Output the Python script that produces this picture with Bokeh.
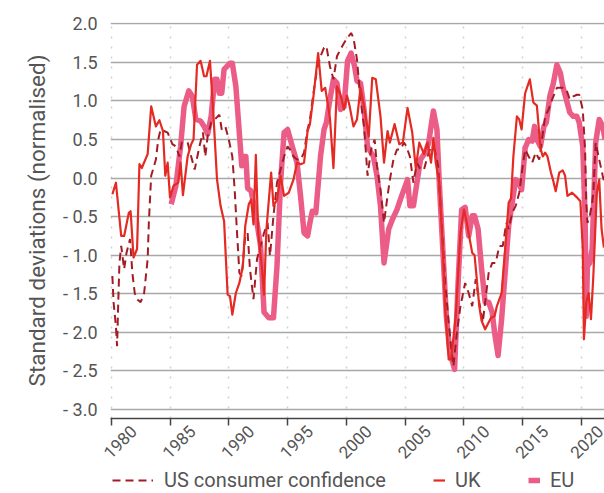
import math
from bokeh.plotting import figure
from bokeh.layouts import column
from bokeh.models import Range1d, FixedTicker, Legend, LegendItem, LinearAxis
from bokeh.embed import file_html
from bokeh.resources import INLINE

# ---------------- data ----------------
X_TICKS = [1980, 1985, 1990, 1995, 2000, 2005, 2010, 2015, 2020]
X_TICK_LABELS = ["1980", "1985", "1990", "1995", "2000", "2005", "2010", "2015", "2020"]
Y_TICKS = [-3.0, -2.5, -2.0, -1.5, -1.0, -0.5, 0.0, 0.5, 1.0, 1.5, 2.0]
Y_TICK_LABELS = ["- 3.0", "- 2.5", "- 2.0", "- 1.5", "- 1.0", "- 0.5", "0.0", "0.5", "1.0", "1.5", "2.0"]

SERIES_NAMES = ["US consumer confidence", "UK", "EU"]

us_years = [1980.1, 1980.2, 1980.4, 1980.5, 1980.6, 1980.7, 1980.85, 1981.1, 1981.3, 1981.6, 1981.8,
            1982.0, 1982.2, 1982.5, 1982.8, 1983.1, 1983.2, 1983.4, 1983.8, 1984.0, 1984.2, 1984.5,
            1984.8, 1985.2, 1985.5, 1985.8, 1986.0, 1986.5, 1986.8, 1987.1, 1987.5, 1987.8, 1988.0,
            1988.2, 1988.5, 1988.8, 1989.2, 1989.4, 1989.7, 1990.0, 1990.3, 1990.5, 1990.7, 1990.9,
            1991.1, 1991.4, 1991.6, 1991.8, 1992.1, 1992.4, 1992.7, 1993.0, 1993.3, 1993.5, 1993.8,
            1994.1, 1994.4, 1994.7, 1995.0, 1995.2, 1995.5, 1995.8, 1996.1, 1996.4, 1996.7, 1996.9,
            1997.2, 1997.5, 1997.8, 1998.1, 1998.3, 1998.6, 1998.9, 1999.2, 1999.5, 1999.8, 2000.0,
            2000.4, 2000.6, 2000.9, 2001.2, 2001.5, 2001.8, 2002.1, 2002.4, 2002.6, 2002.9, 2003.2,
            2003.5, 2003.7, 2004.0, 2004.3, 2004.6, 2004.9, 2005.1, 2005.4, 2005.7, 2006.0, 2006.3,
            2006.6, 2006.9, 2007.2, 2007.5, 2007.8, 2008.1, 2008.4, 2008.7, 2008.9, 2009.1, 2009.4,
            2009.7, 2010.1, 2010.4, 2010.7, 2011.0, 2011.3, 2011.6, 2011.8, 2012.1, 2012.4, 2012.7,
            2013.0, 2013.3, 2013.6, 2013.8, 2014.1, 2014.4, 2014.7, 2015.0, 2015.2, 2015.5, 2015.8,
            2016.1, 2016.4, 2016.6, 2016.9, 2017.2, 2017.5, 2017.9, 2018.2, 2018.4, 2018.7, 2019.0,
            2019.3, 2019.6, 2019.8, 2020.1, 2020.3, 2020.4, 2020.5, 2020.7, 2020.9, 2021.0, 2021.2,
            2021.5, 2021.8, 2022.0]
us_values = [-1.27, -1.61, -1.92, -2.18, -1.61, -1.10, -0.88, -1.18, -0.97, -0.79, -1.23,
             -1.49, -1.57, -1.61, -1.49, -1.05, -0.58, 0.03, 0.24, 0.50, 0.63, 0.61,
             0.59, 0.44, 0.41, 0.28, 0.46, 0.46, 0.28, 0.11, 0.41, 0.59, 0.28,
             0.54, 0.72, 0.76, 0.82, 0.63, 0.67, 0.50, 0.28, -0.15, -0.71, -1.23,
             -1.27, -0.75, -0.71, -1.18, -1.57, -1.05, -0.88, -0.71, -0.58, -1.01, -0.49,
             -0.06, 0.11, 0.28, 0.41, 0.37, 0.28, 0.24, 0.24, 0.33, 0.63, 0.76,
             1.10, 1.41, 1.58, 1.69, 1.71, 1.45, 1.28, 1.58, 1.67, 1.75, 1.80,
             1.88, 1.82, 1.54, 1.02, 0.67, 0.03, 0.37, 0.50, 0.16, -0.15, -0.58,
             -0.23, -0.02, 0.24, 0.37, 0.37, 0.46, 0.41, 0.28, -0.06, 0.20, 0.11,
             0.11, 0.28, 0.41, 0.37, 0.16, -0.58, -1.36, -1.87, -2.18, -2.44, -2.00,
             -1.66, -1.36, -1.49, -1.66, -1.31, -1.61, -1.87, -1.61, -1.23, -1.10, -1.10,
             -0.88, -0.88, -0.58, -0.66, -0.45, -0.36, -0.19, 0.16, 0.37, 0.28, 0.20,
             0.33, 0.24, 0.46, 0.80, 0.89, 1.02, 1.17, 1.17, 1.17, 1.15, 1.02,
             1.06, 1.08, 1.08, 0.89, 0.37, -0.32, -0.58, -0.49, -0.32, -0.19, 0.46,
             0.24, 0.03, -0.10]

uk_years = [1980.1, 1980.4, 1980.85, 1981.1, 1981.5, 1981.65, 1981.9, 1982.2, 1982.4, 1982.6,
            1983.1, 1983.4, 1983.8, 1984.1, 1984.4, 1984.6, 1984.8, 1985.0, 1985.3, 1985.7,
            1985.9, 1986.1, 1986.5, 1986.8, 1987.0, 1987.3, 1987.6, 1987.9, 1988.1, 1988.4,
            1988.7, 1989.0, 1989.3, 1989.6, 1989.9, 1990.1, 1990.3, 1990.6, 1990.9, 1991.2,
            1991.4, 1991.7, 1991.9, 1992.1, 1992.3, 1992.5, 1992.8, 1993.0, 1993.2, 1993.6,
            1993.8, 1994.1, 1994.4, 1994.7, 1995.1, 1995.5, 1995.8, 1996.1, 1996.4, 1996.7,
            1996.9, 1997.2, 1997.6, 1997.9, 1998.2, 1998.6, 1998.9, 1999.2, 1999.5, 1999.8,
            2000.05, 2000.25, 2000.6, 2000.9, 2001.2, 2001.5, 2001.9, 2002.2, 2002.5, 2002.9,
            2003.2, 2003.5, 2003.7, 2004.1, 2004.5, 2004.8, 2005.2, 2005.6, 2005.9, 2006.2,
            2006.6, 2006.9, 2007.2, 2007.4, 2007.6, 2007.9, 2008.2, 2008.4, 2008.7, 2008.9,
            2009.3, 2009.7, 2010.0, 2010.2, 2010.7, 2010.9, 2011.3, 2011.5, 2011.8, 2012.3,
            2012.6, 2012.8, 2013.2, 2013.5, 2013.8, 2014.0, 2014.2, 2014.5, 2014.7, 2014.9,
            2015.2, 2015.6, 2015.9, 2016.2, 2016.5, 2016.7, 2016.9, 2017.1, 2017.4, 2017.6,
            2017.8, 2018.1, 2018.4, 2018.6, 2018.8, 2019.2, 2019.6, 2019.9, 2020.1, 2020.2,
            2020.4, 2020.6, 2020.8, 2021.0, 2021.3, 2021.5, 2021.7, 2021.9]
uk_values = [-0.21, -0.06, -0.75, -0.75, -0.45, -0.43, -1.03, -0.92, 0.18, 0.13,
             0.31, 0.93, 0.67, 0.75, 0.61, 0.03, 0.20, -0.25, -0.10, -0.06,
             0.20, -0.22, 0.28, 0.44, 0.50, 1.47, 1.52, 1.32, 1.32, 1.52,
             0.80, -0.02, -0.36, -0.56, -1.51, -1.53, -1.77, -1.49, -1.36, -1.14,
             -0.62, -0.34, -0.28, -0.60, 0.30, -0.71, -1.14, -1.51, -0.66, 0.07,
             -0.36, -0.28, 0.03, -0.23, -0.19, -0.02, 0.20, 0.18, 0.20, 0.61,
             0.70, 1.06, 1.62, 1.13, 1.17, 0.78, 0.13, 1.19, 1.08, 0.89,
             1.07, 0.95, 0.67, 0.76, 1.17, 0.93, 0.54, 1.30, 1.28, 0.80,
             0.20, 0.61, 0.46, 0.70, 0.44, 0.46, 0.91, 0.59, 0.13, 0.46,
             0.31, 0.46, 0.20, 0.52, 0.20, -0.06, -0.92, -1.70, -2.35, -2.35,
             -1.79, -0.71, -0.41, -0.55, -0.97, -1.00, -1.66, -1.85, -1.96, -1.81,
             -1.79, -1.66, -1.49, -0.92, -0.32, -0.26, 0.28, 0.80, 0.76, 0.63,
             1.10, 1.28, 0.98, 0.94, 0.39, 0.28, 0.33, 0.28, 0.07, -0.04,
             -0.17, 0.07, 0.10, 0.03, -0.23, -0.19, -0.25, -0.30, -0.92, -2.09,
             -1.61, -1.49, -1.83, -1.27, -0.19, -0.02, -0.66, -0.90]

eu_years = [1985.1, 1985.5, 1985.9, 1986.2, 1986.6, 1986.9, 1987.2, 1987.6, 1987.9, 1988.2,
            1988.5, 1988.8, 1989.0, 1989.2, 1989.4, 1989.6, 1990.1, 1990.3, 1990.6, 1991.0,
            1991.1, 1991.3, 1991.45, 1991.6, 1991.9, 1992.1, 1992.4, 1992.7, 1993.0, 1993.4,
            1993.8, 1994.1, 1994.4, 1994.7, 1995.0, 1995.4, 1995.8, 1996.1, 1996.4, 1996.7,
            1996.9, 1997.1, 1997.4, 1997.8, 1998.1, 1998.3, 1998.6, 1998.9, 1999.2, 1999.5,
            1999.8, 2000.1, 2000.4, 2000.7, 2000.9, 2001.2, 2001.5, 2001.8, 2002.1, 2002.3,
            2002.6, 2002.9, 2003.2, 2003.6, 2003.9, 2004.3, 2004.7, 2005.2, 2005.4, 2005.7,
            2006.0, 2006.3, 2006.7, 2007.0, 2007.2, 2007.4, 2007.7, 2007.9, 2008.2, 2008.5,
            2008.8, 2009.2, 2009.5, 2009.8, 2010.1, 2010.4, 2010.7, 2010.9, 2011.2, 2011.5,
            2011.8, 2012.1, 2012.4, 2012.6, 2012.9, 2013.2, 2013.5, 2013.8, 2014.1, 2014.4,
            2014.6, 2014.9, 2015.2, 2015.5, 2015.8, 2016.0, 2016.2, 2016.5, 2016.8, 2017.0,
            2017.3, 2017.6, 2017.9, 2018.2, 2018.4, 2018.7, 2019.0, 2019.3, 2019.6, 2019.8,
            2020.1, 2020.3, 2020.4, 2020.5, 2020.7, 2020.9, 2021.2, 2021.5, 2021.8, 2022.0]
eu_values = [-0.34, -0.10, 0.41, 0.93, 1.13, 1.06, 0.76, 0.74, 0.67, 0.57,
             0.80, 1.28, 1.28, 1.10, 1.10, 1.41, 1.49, 1.49, 1.19, 0.37,
             0.16, 0.28, 0.28, -0.13, -0.17, -0.32, -0.58, -0.88, -1.74, -1.81,
             -1.81, -1.14, -0.06, 0.59, 0.63, 0.41, 0.20, -0.23, -0.71, -0.75,
             -0.58, -0.43, -0.45, 0.28, 0.63, 0.72, 1.02, 1.28, 1.23, 0.89,
             0.93, 1.52, 1.62, 1.45, 1.26, 1.23, 0.89, 0.41, 0.33, 0.28,
             0.03, -0.36, -1.10, -0.66, -0.54, -0.41, -0.23, -0.02, -0.36, -0.36,
             -0.06, 0.24, 0.33, 0.46, 0.67, 0.87, 0.63, -0.06, -0.92, -1.79,
             -2.26, -2.48, -1.36, -0.41, -0.38, -0.75, -0.49, -0.49, -0.66, -1.18,
             -1.61, -1.61, -1.74, -2.00, -2.30, -1.83, -1.23, -0.62, -0.32, -0.02,
             -0.04, -0.15, 0.39, 0.50, 0.48, 0.67, 0.50, 0.41, 0.67, 0.72,
             1.06, 1.23, 1.47, 1.36, 1.19, 1.02, 0.85, 0.80, 0.80, 0.72,
             0.41, -0.49, -1.79, -1.14, -1.10, -0.92, 0.46, 0.76, 0.67, 0.50]

# ---------------- styling ----------------
FONT = "Roboto"
TEXT_COLOR = "#555555"
US_COLOR = "#a31c24"
UK_COLOR = "#e42a22"
EU_COLOR = "#eb5c87"
US_STYLE = dict(line_color=US_COLOR, line_width=2, line_dash="8 5")
UK_STYLE = dict(line_color=UK_COLOR, line_width=2.2, line_join="round")
EU_STYLE = dict(line_color=EU_COLOR, line_width=5.5, line_join="round")

W = 604
MAIN_H = 469
LEG_H = 24
X0, X1 = 1979.94, 2021.95
PX_PER_YEAR = 494 / (X1 - X0)
LABEL_SHIFT_YEARS = 22.5 / PX_PER_YEAR   # centre the rotated year labels under their ticks

p = figure(width=W, height=MAIN_H,
           x_range=Range1d(X0, X1), y_range=Range1d(-3.117, 2.017),
           output_backend="svg", toolbar_location=None,
           min_border_left=110, min_border_right=0, min_border_top=22, min_border_bottom=51)
p.outline_line_color = None
p.background_fill_color = "white"
p.border_fill_color = "white"

p.line(eu_years, eu_values, **EU_STYLE)
p.line(us_years, us_values, **US_STYLE)
p.line(uk_years, uk_values, **UK_STYLE)

# x axis: line + ticks only
p.xaxis.ticker = FixedTicker(ticks=X_TICKS)
p.xaxis.major_label_text_font_size = "0px"
p.xaxis.major_label_text_color = None
p.xaxis.major_label_standoff = 0
p.xaxis.axis_line_color = "#444444"
p.xaxis.axis_line_width = 1.5
p.xaxis.major_tick_line_color = "#444444"
p.xaxis.major_tick_line_width = 1.5
p.xaxis.major_tick_out = 7
p.xaxis.major_tick_in = 0
p.xaxis.minor_tick_line_color = None

# x tick labels (rotated), on a label axis whose range is offset so each label is centred on its tick
p.extra_x_ranges = {"labels": Range1d(X0 - LABEL_SHIFT_YEARS, X1 - LABEL_SHIFT_YEARS)}
lab_axis = LinearAxis(x_range_name="labels", ticker=FixedTicker(ticks=X_TICKS),
                      major_label_overrides=dict(zip(X_TICKS, X_TICK_LABELS)),
                      major_label_orientation=math.pi / 4, major_label_standoff=3,
                      major_label_text_font=FONT, major_label_text_font_size="17px",
                      major_label_text_color=TEXT_COLOR,
                      axis_line_color=None, major_tick_line_color=None, minor_tick_line_color=None,
                      major_tick_out=0, major_tick_in=0)
p.add_layout(lab_axis, "below")

# y axis
p.yaxis.ticker = FixedTicker(ticks=Y_TICKS)
p.yaxis.major_label_overrides = dict(zip(Y_TICKS, Y_TICK_LABELS))
p.yaxis.axis_line_color = None
p.yaxis.major_tick_line_color = None
p.yaxis.minor_tick_line_color = None
p.yaxis.major_tick_out = 0
p.yaxis.major_label_standoff = 13
p.yaxis.major_label_text_font = FONT
p.yaxis.major_label_text_font_size = "18px"
p.yaxis.major_label_text_color = TEXT_COLOR
p.yaxis.axis_label = "Standard deviations (normalised)"
p.yaxis.axis_label_text_font = FONT
p.yaxis.axis_label_text_font_size = "22.5px"
p.yaxis.axis_label_text_font_style = "normal"
p.yaxis.axis_label_text_color = TEXT_COLOR
p.yaxis.axis_label_standoff = 10

# grids
p.ygrid.ticker = FixedTicker(ticks=Y_TICKS)
p.ygrid.grid_line_color = "#a8a8a8"
p.ygrid.grid_line_width = 1.3
p.xgrid.ticker = FixedTicker(ticks=X_TICKS)
p.xgrid.grid_line_color = "#cfcfcf"
p.xgrid.grid_line_width = 1.5
p.xgrid.grid_line_dash = "2 8"

# ---------------- legend strip ----------------
leg = figure(width=W, height=LEG_H, x_range=Range1d(0, 1), y_range=Range1d(0, 1),
             x_axis_type=None, y_axis_type=None,
             output_backend="svg", toolbar_location=None,
             min_border_left=110, min_border_right=0, min_border_top=0, min_border_bottom=0)
leg.grid.visible = False
leg.outline_line_color = None
leg.background_fill_color = "white"
leg.border_fill_color = "white"

# legend sample renderers (kept outside the visible range, they only feed the legend)
r_us = leg.line([-2, -1], [-2, -2], **US_STYLE)
r_uk = leg.line([-2, -1], [-2, -2], **UK_STYLE)
r_eu = leg.line([-2, -1], [-2, -2], **EU_STYLE)

def make_legend(label, renderer, glyph_w, x, standoff):
    lg = Legend(items=[LegendItem(label=label, renderers=[renderer])],
                location=(x, 1), orientation="horizontal",
                glyph_width=glyph_w, glyph_height=20, label_standoff=standoff,
                padding=0, margin=0, spacing=0,
                border_line_color=None, background_fill_alpha=0,
                label_text_font=FONT, label_text_font_size="20px", label_text_color=TEXT_COLOR)
    leg.add_layout(lg)

make_legend(SERIES_NAMES[0], r_us, 41, 2, 11)
make_legend(SERIES_NAMES[1], r_uk, 12, 323, 10)
make_legend(SERIES_NAMES[2], r_eu, 12, 418, 10)

layout = column(p, leg, spacing=0)
open("out.html", "w").write(file_html(layout, INLINE))
